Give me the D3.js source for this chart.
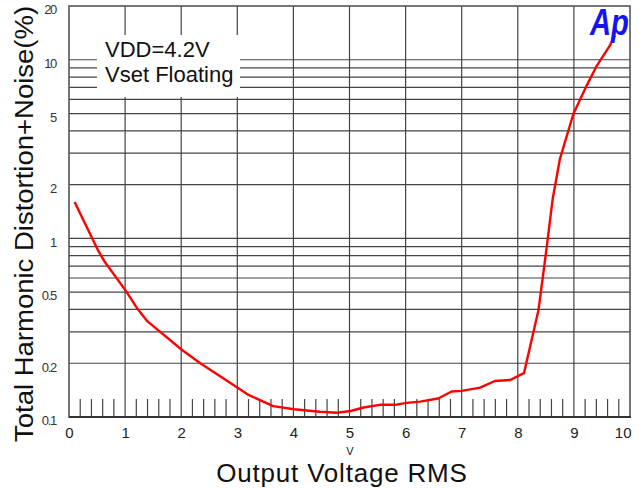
<!DOCTYPE html>
<html><head><meta charset="utf-8">
<script src="https://cdn.jsdelivr.net/npm/d3@7"></script>
<style>
html,body{margin:0;padding:0;background:#fff;}
svg{display:block;font-family:"Liberation Sans",Arial,sans-serif;}
</style></head>
<body><svg id="c" width="639" height="489"></svg>
<script>
// ---- data ----
const outputVoltage = [0.1,0.51,0.63,1.02,1.21,1.40,2.01,2.34,3.02,3.2,3.64,4.01,4.47,4.77,5.02,5.25,5.54,5.81,6.02,6.26,6.58,6.82,7.0,7.33,7.59,7.86,8.11,8.37,8.51,8.62,8.75,8.99,9.23,9.41,9.64,9.73];
const thdN = [1.6,0.866,0.745,0.505,0.408,0.343,0.238,0.200,0.145,0.133,0.115,0.1105,0.107,0.1057,0.108,0.113,0.117,0.117,0.120,0.122,0.127,0.139,0.140,0.146,0.159,0.161,0.176,0.399,0.866,1.65,2.78,4.97,7.19,9.28,12.0,13.7];
const xTickValues = [0,1,2,3,4,5,6,7,8,9,10];
const yTickValues = [0.1,0.2,0.5,1,2,5,10,20];
const yTickLabels = ["0.1","0.2","0.5","1","2","5","10","20"];
const yGridValues = [0.2,0.3,0.4,0.5,0.6,0.7,0.8,0.9,1,2,3,4,5,6,7,8,9,10];
const legendLines = ["VDD=4.2V","Vset Floating"];
const xTitle = "Output Voltage RMS";
const yTitle = "Total  Harmonic Distortion+Noise(%)";

// ---- layout ----
const L=69, R=630, T=6, B=417;
const svg = d3.select("#c");
const x = d3.scaleLinear().domain([0,10]).range([L,R]);
const y = d3.scaleLog().domain([0.1,20]).range([B,T]);

const g = svg.append("g");
g.selectAll("line.hg").data(yGridValues).join("line")
  .attr("x1",L).attr("x2",R).attr("y1",d=>y(d)).attr("y2",d=>y(d))
  .attr("stroke","#444").attr("stroke-width",1.2);
g.selectAll("line.vg").data(xTickValues.filter(d=>d>0&&d<10)).join("line")
  .attr("x1",d=>x(d)).attr("x2",d=>x(d)).attr("y1",T).attr("y2",B)
  .attr("stroke","#444").attr("stroke-width",1.2);
const minor = d3.range(1,50).filter(i=>i%5!==0).map(i=>i/5);
g.selectAll("line.mt").data(minor).join("line")
  .attr("x1",d=>x(d)).attr("x2",d=>x(d)).attr("y1",B-18).attr("y2",B)
  .attr("stroke","#444").attr("stroke-width",1.2);

svg.append("rect").attr("x",L).attr("y",T).attr("width",R-L).attr("height",B-T)
  .attr("fill","none").attr("stroke","#555").attr("stroke-width",1.6);
svg.append("line").attr("x1",L).attr("x2",R+1).attr("y1",B).attr("y2",B)
  .attr("stroke","#333").attr("stroke-width",2);

svg.append("rect").attr("x",97).attr("y",35).attr("width",143).attr("height",62).attr("fill","#fff");
svg.append("g").selectAll("text").data(legendLines).join("text")
  .attr("x",105).attr("y",(d,i)=>57+i*25)
  .attr("font-size",22).attr("fill","#111").text(d=>d);

const line = d3.line().x(d=>x(d[0])).y(d=>y(d[1]));
svg.append("path").datum(outputVoltage.map((v,i)=>[v,thdN[i]]))
  .attr("d",line).attr("fill","none").attr("stroke","#ff0000")
  .attr("stroke-width",2.4).attr("stroke-linejoin","round");

svg.append("text").attr("x",590).attr("y",35)
  .attr("font-size",36).attr("font-weight","bold").attr("font-style","italic")
  .attr("fill","#1414f0").attr("textLength",39).attr("lengthAdjust","spacingAndGlyphs").text("Ap");

const xa = svg.append("g").attr("transform",`translate(0,${B})`)
  .call(d3.axisBottom(x).tickValues(xTickValues).tickSize(0).tickPadding(10).tickFormat(d3.format("d")));
xa.select(".domain").remove();
xa.selectAll("text").attr("font-size",15).attr("font-family","Liberation Sans, Arial, sans-serif").attr("fill","#222");
xa.selectAll(".tick").filter(d=>d===10).select("text").attr("text-anchor","end").attr("dx",1);

const ya = svg.append("g").attr("transform",`translate(${L},0)`)
  .call(d3.axisLeft(y).tickValues(yTickValues).tickSize(0).tickPadding(13)
    .tickFormat((d,i)=>yTickLabels[i]));
ya.select(".domain").remove();
ya.selectAll("text").attr("font-size",13).attr("font-family","Liberation Sans, Arial, sans-serif")
  .attr("fill","#333").attr("letter-spacing",-1.3).attr("dy","0.6em");

svg.append("text").attr("x",342).attr("y",482).attr("text-anchor","middle")
  .attr("font-size",26).attr("letter-spacing",0.8).attr("fill","#111").text(xTitle);
svg.append("text").attr("x",350).attr("y",455).attr("text-anchor","middle")
  .attr("font-size",11).attr("fill","#111").text("V");
svg.append("text").attr("transform","translate(33,442) rotate(-90) scale(1.1,1)")
  .attr("font-size",25).attr("fill","#111").text(yTitle);
</script></body></html>
